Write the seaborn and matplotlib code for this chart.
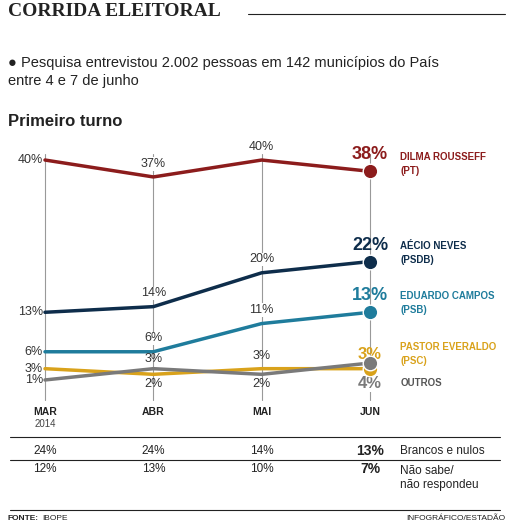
import matplotlib
matplotlib.use("Agg")
import matplotlib.pyplot as plt
import seaborn as sns
import pandas as pd

months = ["MAR", "ABR", "MAI", "JUN"]
candidates = ["DILMA ROUSSEFF", "AÉCIO NEVES", "EDUARDO CAMPOS", "PASTOR EVERALDO", "OUTROS"]
parties = ["(PT)", "(PSDB)", "(PSB)", "(PSC)", ""]
dilma = [40, 37, 40, 38]
aecio = [13, 14, 20, 22]
eduardo = [6, 6, 11, 13]
pastor = [3, 2, 3, 3]
outros = [1, 3, 2, 4]
brancos = [24, 24, 14, 13]
naosabe = [12, 13, 10, 7]
colors = ["#8c1c1c", "#0e2d4b", "#1f7c9c", "#d9a21b", "#7a7a7a"]

series = [dilma, aecio, eduardo, pastor, outros]
rows = []
for c, s in zip(candidates, series):
    for i, v in enumerate(s):
        rows.append({"cand": c, "x": i, "v": v})
df = pd.DataFrame(rows)

sns.set_style("white")
plt.rcParams["font.family"] = ["Liberation Sans", "DejaVu Sans"]
fig = plt.figure(figsize=(5.2, 5.28), dpi=100)
ax = fig.add_axes([45/520, 0.243, 325/520, 0.4646])
for i in range(4):
    ax.axvline(i, color="#999", lw=0.8, zorder=0)
sns.lineplot(data=df, x="x", y="v", hue="cand", palette=dict(zip(candidates, colors)),
             ax=ax, legend=False, lw=2.5, zorder=3)
for ln in ax.lines:
    ln.set_clip_on(False)
ax.set_xlim(0, 3)
ax.set_ylim(-2.5, 41)
ax.axis("off")

offs = {"DILMA ROUSSEFF": 1.2, "AÉCIO NEVES": 1.3, "EDUARDO CAMPOS": 1.3}
for c, s, col in zip(candidates, series, colors):
    ax.scatter([3], [s[3]], s=110, color=col, zorder=4, edgecolor="white", linewidth=1, clip_on=False)
    ax.text(-0.02, s[0], f"{s[0]}%", ha="right", va="center", fontsize=9, color="#333")
    if c in offs:
        for i in (1, 2):
            ax.text(i, s[i] + offs[c], f"{s[i]}%", ha="center", va="bottom", fontsize=9, color="#333",
                    bbox=dict(fc="white", ec="none", pad=0.5))
        ax.text(3, s[3] + 1.4, f"{s[3]}%", ha="center", va="bottom", fontsize=13,
                fontweight="bold", color=col, clip_on=False)
ax.text(1, 3.6, "3%", ha="center", va="bottom", fontsize=9, color="#333")
ax.text(1, 0.3, "2%", ha="center", va="center", fontsize=9, color="#333")
ax.text(2, 4.2, "3%", ha="center", va="bottom", fontsize=9, color="#333")
ax.text(2, 0.3, "2%", ha="center", va="center", fontsize=9, color="#333")
ax.text(3, 4.2, "3%", ha="center", va="bottom", fontsize=12, fontweight="bold", color=colors[3], clip_on=False)
ax.text(3, 0.4, "4%", ha="center", va="center", fontsize=12, fontweight="bold", color=colors[4],
        bbox=dict(fc="white", ec="none", pad=0.5), clip_on=False)

lab_y = [39.3, 23.6, 14.6, 5.6, 0.4]
for c, p, col, y in zip(candidates, parties, colors, lab_y):
    ax.text(3.28, y, c + ("\n" + p if p else ""), ha="left", va="center", fontsize=7,
            fontweight="bold", color=col if c != "OUTROS" else "#555", clip_on=False, linespacing=1.5)

for i, m in enumerate(months):
    ax.text(i, -3.8, m, ha="center", va="top", fontsize=7.5, fontweight="bold", color="#222", clip_on=False)
ax.text(0, -6.0, "2014", ha="center", va="top", fontsize=7, color="#444", clip_on=False)

def fx(i):
    return (45 + i * 325 / 3) / 520

def fy(py):
    return 1 - py / 528

for i in range(4):
    w = "bold" if i == 3 else "normal"
    fs = 10 if i == 3 else 8.5
    fig.text(fx(i), fy(451), f"{brancos[i]}%", ha="center", va="center", fontsize=fs, fontweight=w, color="#222")
    fig.text(fx(i), fy(469), f"{naosabe[i]}%", ha="center", va="center", fontsize=fs, fontweight=w, color="#222")
fig.text(400/520, fy(451), "Brancos e nulos", ha="left", va="center", fontsize=8.5, color="#222")
fig.text(400/520, fy(478), "Não sabe/\nnão respondeu", ha="left", va="center", fontsize=8.5, color="#222", linespacing=1.2)
fig.add_artist(plt.Line2D([10/520, 500/520], [fy(437)] * 2, color="#222", lw=0.8))
fig.add_artist(plt.Line2D([10/520, 500/520], [fy(460)] * 2, color="#222", lw=0.8))
fig.add_artist(plt.Line2D([10/520, 500/520], [fy(510)] * 2, color="#222", lw=0.8))
fig.text(8/520, fy(519), "FONTE:", ha="left", va="center", fontsize=6, fontweight="bold", color="#222")
fig.text(42/520, fy(519), "IBOPE", ha="left", va="center", fontsize=6, color="#222")
fig.text(505/520, fy(519), "INFOGRÁFICO/ESTADÃO", ha="right", va="center", fontsize=6, color="#222")

fig.text(8/520, fy(12), "CORRIDA ELEITORAL", ha="left", va="center", fontsize=14, fontweight="bold",
         family=["Liberation Serif", "DejaVu Serif"], color="#222")
fig.add_artist(plt.Line2D([248/520, 505/520], [fy(14)] * 2, color="#222", lw=0.8))
fig.text(8/520, fy(72), "● Pesquisa entrevistou 2.002 pessoas em 142 municípios do País\nentre 4 e 7 de junho",
         ha="left", va="center", fontsize=10.5, color="#222", linespacing=1.3)
fig.text(8/520, fy(122), "Primeiro turno", ha="left", va="center", fontsize=12, fontweight="bold", color="#222")

fig.savefig("out.png", dpi=100, facecolor="white")
